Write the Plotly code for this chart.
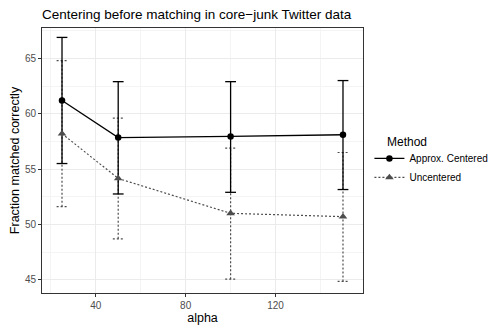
import plotly.graph_objects as go

alpha = [25, 50, 100, 150]

# Approx. Centered
cen_mean = [61.2, 57.85, 57.95, 58.1]
cen_low = [55.5, 52.75, 52.9, 53.15]
cen_high = [66.9, 62.9, 62.9, 63.0]

# Uncentered
unc_mean = [58.2, 54.15, 51.0, 50.7]
unc_low = [51.6, 48.7, 45.05, 44.85]
unc_high = [64.8, 59.6, 56.9, 56.5]

cap = 2.4  # half width of the error bar caps, in alpha units


def bar_segments(xs, lo, hi):
    sx, sy = [], []
    for x, l, h in zip(xs, lo, hi):
        sx += [x, x, None, x - cap, x + cap, None, x - cap, x + cap, None]
        sy += [l, h, None, h, h, None, l, l, None]
    return sx, sy


fig = go.Figure()

ux, uy = bar_segments(alpha, unc_low, unc_high)
fig.add_trace(go.Scatter(x=ux, y=uy, mode="lines", showlegend=False, hoverinfo="skip",
                         line=dict(color="#4d4d4d", width=1.2, dash="2px,2px")))
cx, cy = bar_segments(alpha, cen_low, cen_high)
fig.add_trace(go.Scatter(x=cx, y=cy, mode="lines", showlegend=False, hoverinfo="skip",
                         line=dict(color="black", width=1.3)))

fig.add_trace(go.Scatter(x=alpha, y=cen_mean, name="Approx. Centered", mode="lines+markers",
                         line=dict(color="black", width=1.3),
                         marker=dict(symbol="circle", size=6.5, color="black")))
fig.add_trace(go.Scatter(x=alpha, y=unc_mean, name="Uncentered", mode="lines+markers",
                         line=dict(color="#4d4d4d", width=1.2, dash="2px,2px"),
                         marker=dict(symbol="triangle-up", size=7.5, color="#4d4d4d")))

# page body has an 8px margin, so the figure is 8px smaller each way
fig.update_layout(
    width=490, height=324,
    margin=dict(l=34, r=135, t=20, b=39, autoexpand=False),
    paper_bgcolor="white", plot_bgcolor="white",
    font=dict(family="Liberation Sans, Arial, sans-serif", color="black"),
    title=dict(text="Centering before matching in core\u2212junk Twitter data",
               xref="paper", x=0, xanchor="left", y=0.98, yanchor="middle",
               font=dict(size=13.5, color="black")),
    legend=dict(font=dict(size=10),
                x=1.02, xanchor="left", y=0.472, yanchor="middle", itemwidth=30,
                bgcolor="rgba(0,0,0,0)", tracegroupgap=0),
)
# legend title as a separate label so it can sit to the right of the key symbols
fig.add_annotation(text="Method", xref="paper", yref="paper", x=1.0685, y=0.57,
                   xanchor="left", yanchor="middle", showarrow=False,
                   font=dict(size=12, color="black"))

fig.update_xaxes(
    range=[16.1, 158.9], tickvals=[40, 80, 120], ticks="outside", ticklen=3,
    tickcolor="#333333", tickfont=dict(size=10, color="#4d4d4d"),
    showline=True, linecolor="#333333", linewidth=1, mirror=True,
    showgrid=True, gridcolor="#ebebeb", gridwidth=1, zeroline=False, automargin=False,
    minor=dict(tickvals=[20, 60, 100, 140], showgrid=True, gridcolor="#f4f4f4", gridwidth=0.6, ticks=""),
    title=dict(text="alpha", font=dict(size=12.5), standoff=1),
)
fig.update_yaxes(
    range=[43.8, 67.75], tickvals=[45, 50, 55, 60, 65], ticks="outside", ticklen=3,
    tickcolor="#333333", tickfont=dict(size=10, color="#4d4d4d"),
    showline=True, linecolor="#333333", linewidth=1, mirror=True,
    showgrid=True, gridcolor="#ebebeb", gridwidth=1, zeroline=False, automargin=False,
    minor=dict(tickvals=[47.5, 52.5, 57.5, 62.5, 67.5], showgrid=True, gridcolor="#f4f4f4", gridwidth=0.6, ticks=""),
    title=dict(text="Fraction matched correctly", font=dict(size=12.5), standoff=5),
)

fig.write_html("out.html")
